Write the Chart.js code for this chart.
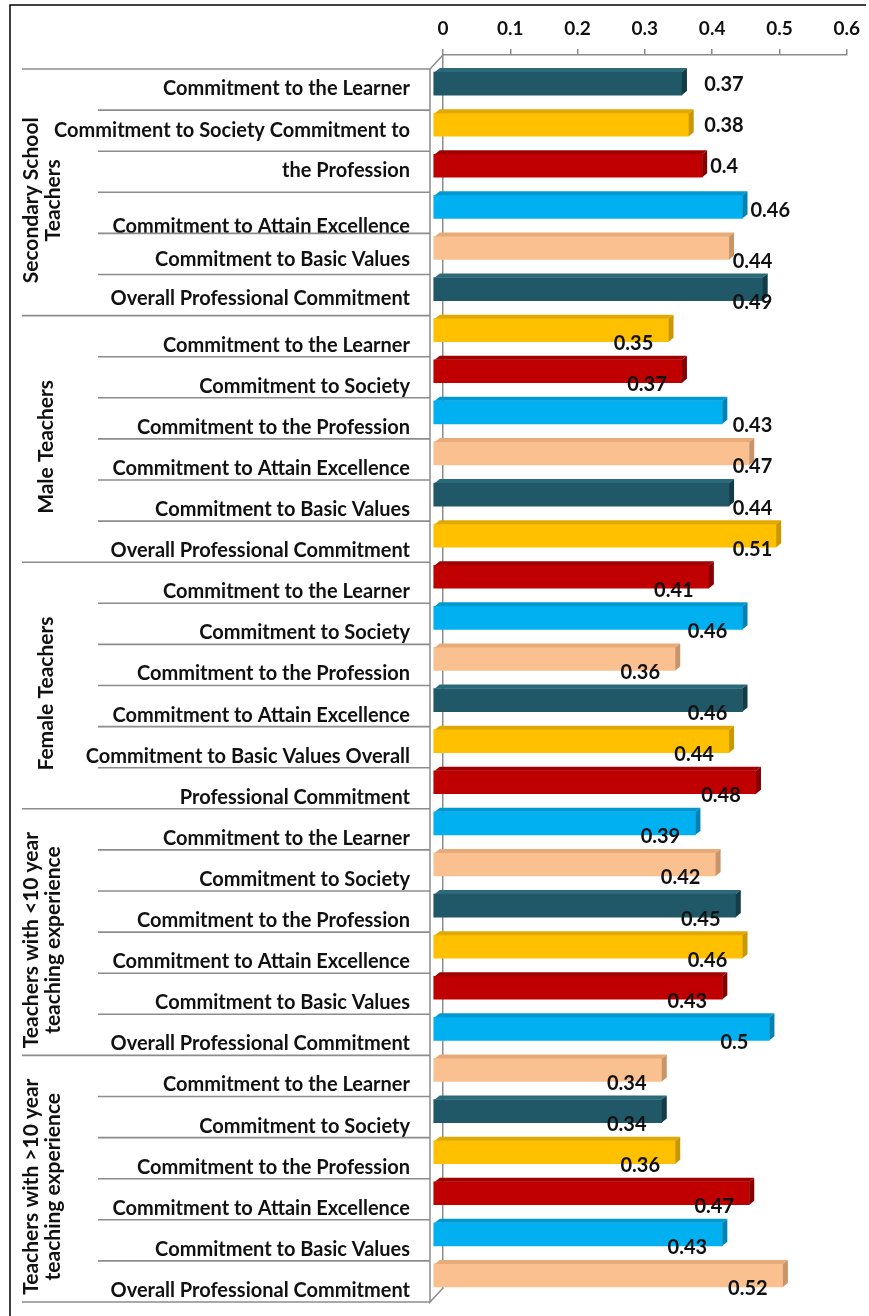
<!DOCTYPE html>
<html><head><meta charset="utf-8">
<script src="https://cdn.jsdelivr.net/npm/chart.js@4.4.1/dist/chart.umd.min.js"></script>
<style>html,body{margin:0;padding:0;background:#fff;}#wrap{position:relative;width:869px;height:1316px;}</style>
</head><body><div id="wrap"><canvas id="c"></canvas></div>
<script>
// ---- data ----
const groupNames = [
  ['Secondary School', 'Teachers'],
  ['Male Teachers'],
  ['Female Teachers'],
  ['Teachers with <10 year', 'teaching experience'],
  ['Teachers with >10 year', 'teaching experience']
];
const groupSizes = [6, 6, 6, 6, 6];
const categories = [
  'Commitment to the Learner', 'Commitment to Society Commitment to', 'the Profession',
  'Commitment to Attain Excellence', 'Commitment to Basic Values', 'Overall Professional Commitment',
  'Commitment to the Learner', 'Commitment to Society', 'Commitment to the Profession',
  'Commitment to Attain Excellence', 'Commitment to Basic Values', 'Overall Professional Commitment',
  'Commitment to the Learner', 'Commitment to Society', 'Commitment to the Profession',
  'Commitment to Attain Excellence', 'Commitment to Basic Values Overall', 'Professional Commitment',
  'Commitment to the Learner', 'Commitment to Society', 'Commitment to the Profession',
  'Commitment to Attain Excellence', 'Commitment to Basic Values', 'Overall Professional Commitment',
  'Commitment to the Learner', 'Commitment to Society', 'Commitment to the Profession',
  'Commitment to Attain Excellence', 'Commitment to Basic Values', 'Overall Professional Commitment'
];
const secondaryValues = [0.37, 0.38, 0.4, 0.46, 0.44, 0.49];
const maleValues = [0.35, 0.37, 0.43, 0.47, 0.44, 0.51];
const femaleValues = [0.41, 0.46, 0.36, 0.46, 0.44, 0.48];
const lessThan10Values = [0.39, 0.42, 0.45, 0.46, 0.43, 0.5];
const moreThan10Values = [0.34, 0.34, 0.36, 0.47, 0.43, 0.52];
const xTickLabels = ['0', '0.1', '0.2', '0.3', '0.4', '0.5', '0.6'];

const values = [].concat(secondaryValues, maleValues, femaleValues, lessThan10Values, moreThan10Values);

// ---- style ----
const palette = ['#205867', '#FFC000', '#C00000', '#00B0F0', '#FAC090'];
const sidePalette = ['#143C47', '#C99700', '#850000', '#0082B4', '#C8946A'];
const topPalette = ['#2A6A7A', '#E0A800', '#A00000', '#0098D0', '#E8AA78'];
const FONT = 'Lato, "Open Sans", sans-serif';
const DX = 10, DY = 14;          // 3D front offset from back plane
const BAR_SHIFT = 8;             // bar vertical shift (front)
const BAR_H = 23;
const DEPTH_X = 5, DEPTH_Y = 4;
const GRAY = '#8c8c8c';
const firstGroupLabelNudge = [-10, -9, -10, 5, -3, -6];   // irregular label placement of the first group

function placement(i) {
  if (i < 4) return 'right';
  if (i === 4 || i === 5 || (i >= 8 && i <= 11)) return 'column';
  return 'below';
}

const nudgeLabels = {
  id: 'nudgeLabels',
  beforeDraw(chart) {
    const ys = chart.scales.y;
    const items = ys.getLabelItems(chart.chartArea);
    items.forEach((it, i) => {
      if (i < firstGroupLabelNudge.length && !it._nudged) {
        it.options.translation[1] += firstGroupLabelNudge[i];
        it._nudged = true;
      }
    });
  }
};

const threeD = {
  id: 'threeD',
  beforeDatasetsDraw(chart) {
    chart.ctx.save();
    chart.ctx.translate(-DX, BAR_SHIFT);
  },
  afterDatasetsDraw(chart) {
    const ctx = chart.ctx;
    const meta = chart.getDatasetMeta(0);
    meta.data.forEach((el, i) => {
      const left = el.base, right = el.x, top = el.y - BAR_H / 2, bot = el.y + BAR_H / 2;
      ctx.fillStyle = topPalette[i % 5];
      ctx.beginPath();
      ctx.moveTo(left + 1, top); ctx.lineTo(left + 1 + DEPTH_X, top - DEPTH_Y);
      ctx.lineTo(right + DEPTH_X, top - DEPTH_Y); ctx.lineTo(right, top); ctx.closePath(); ctx.fill();
      ctx.fillStyle = sidePalette[i % 5];
      ctx.beginPath();
      ctx.moveTo(right, top); ctx.lineTo(right + DEPTH_X, top - DEPTH_Y);
      ctx.lineTo(right + DEPTH_X, bot - DEPTH_Y); ctx.lineTo(right, bot); ctx.closePath(); ctx.fill();
    });
    ctx.restore();
  }
};

const labelsPlugin = {
  id: 'valueLabels',
  afterDatasetsDraw(chart) {
    const ctx = chart.ctx;
    const xs = chart.scales.x;
    const meta = chart.getDatasetMeta(0);
    ctx.save();
    ctx.font = 'bold 20px ' + FONT;
    ctx.fillStyle = '#111';
    ctx.textBaseline = 'middle';
    meta.data.forEach((el, i) => {
      const txt = String(values[i]);
      const frontEnd = el.x - DX;
      const cy = el.y + BAR_SHIFT;
      const bottom = cy + BAR_H / 2;
      const mode = placement(i);
      if (mode === 'right') {
        ctx.textAlign = 'left';
        const x = Math.max(frontEnd + 8, xs.getPixelForValue(0.4) - 8);
        ctx.fillText(txt, x, cy + (i === 3 ? 4 : 1));
      } else if (mode === 'column') {
        ctx.textAlign = 'center';
        ctx.fillText(txt, xs.getPixelForValue(0.46), bottom + 2);
      } else {
        ctx.textAlign = 'center';
        ctx.fillText(txt, frontEnd - 35, bottom + 2);
      }
    });
    ctx.restore();
  }
};

const framePlugin = {
  id: 'frame',
  afterDraw(chart) {
    const ctx = chart.ctx;
    const ca = chart.chartArea;
    const fTop = ca.top + DY, fBot = ca.bottom + DY;
    const wallX = ca.left - 13;
    ctx.save();
    // outer frame
    ctx.strokeStyle = '#000'; ctx.lineWidth = 1.5;
    ctx.beginPath(); ctx.moveTo(10, 1316); ctx.lineTo(10, 5); ctx.lineTo(866, 5); ctx.stroke();
    // wall
    ctx.strokeStyle = GRAY; ctx.lineWidth = 1.5;
    ctx.beginPath();
    ctx.moveTo(ca.left, ca.top); ctx.lineTo(wallX, fTop); ctx.lineTo(wallX, fBot); ctx.lineTo(ca.left, ca.bottom);
    ctx.stroke();
    // separators
    const fSlot = (fBot - fTop) / categories.length;
    const groupStarts = [];
    let acc = 0; groupSizes.forEach(s => { groupStarts.push(acc); acc += s; }); groupStarts.push(acc);
    for (let k = 0; k <= categories.length; k++) {
      const y = fTop + k * fSlot;
      const isGroup = groupStarts.includes(k);
      ctx.lineWidth = 1.6;
      ctx.strokeStyle = GRAY;
      ctx.beginPath(); ctx.moveTo(isGroup ? 22 : 98, y); ctx.lineTo(wallX, y); ctx.stroke();
    }
    // group labels
    ctx.fillStyle = '#111';
    ctx.font = 'bold 21px ' + FONT;
    ctx.textAlign = 'center'; ctx.textBaseline = 'middle';
    groupNames.forEach((lines, g) => {
      const y0 = fTop + groupStarts[g] * fSlot, y1 = fTop + groupStarts[g + 1] * fSlot;
      const cy = (y0 + y1) / 2 + 8;
      const cx = lines.length === 1 ? 46 : 42;
      ctx.save();
      ctx.translate(cx, cy);
      ctx.rotate(-Math.PI / 2);
      lines.forEach((ln, j) => {
        ctx.fillText(ln, 0, (j - (lines.length - 1) / 2) * 22);
      });
      ctx.restore();
    });
    ctx.restore();
  }
};

new Chart(document.getElementById('c'), {
  type: 'bar',
  data: {
    labels: categories,
    datasets: [{
      data: values,
      backgroundColor: ctx => palette[ctx.dataIndex % 5],
      borderWidth: 0,
      barThickness: BAR_H,
      clip: false
    }]
  },
  options: {
    indexAxis: 'y',
    responsive: true,
    maintainAspectRatio: false,
    devicePixelRatio: 1,
    animation: false,
    layout: { autoPadding: false, padding: { left: 0, right: 14, top: 0, bottom: 28 } },
    plugins: { legend: { display: false }, tooltip: { enabled: false } },
    scales: {
      x: {
        position: 'top',
        min: 0, max: 0.6,
        afterFit: s => { s.height = 55; s.paddingTop = 0; s.paddingBottom = 0; },
        afterBuildTicks: s => { s.ticks = xTickLabels.map(t => ({ value: parseFloat(t) })); },
        ticks: {
          callback: (v, i) => xTickLabels[i],
          font: { family: FONT, weight: 'bold', size: 19 },
          color: '#111',
          padding: 9,
          maxRotation: 0
        },
        grid: { drawOnChartArea: false, drawTicks: true, tickLength: 6, color: GRAY, lineWidth: 1.5 },
        border: { display: true, color: GRAY, width: 1.5 }
      },
      y: {
        afterFit: s => { s.width = 443; s.paddingTop = 0; s.paddingBottom = 0; },
        ticks: {
          autoSkip: false,
          font: { family: FONT, weight: 'bold', size: 20 },
          color: '#111',
          padding: 33,
          labelOffset: 23
        },
        grid: { display: false, drawTicks: false },
        border: { display: true, color: GRAY, width: 1.5 }
      }
    }
  },
  plugins: [nudgeLabels, threeD, labelsPlugin, framePlugin]
});
</script>
</body></html>
